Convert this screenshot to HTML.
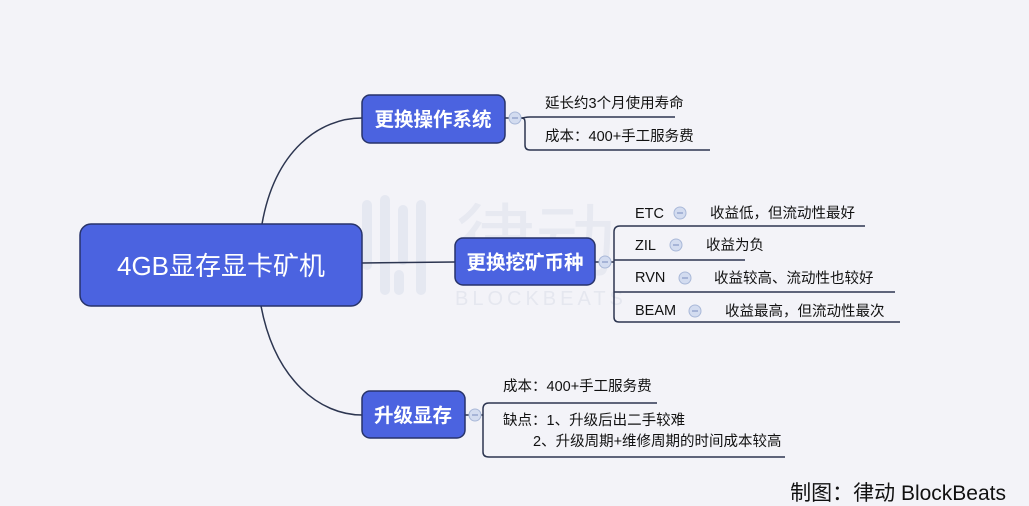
<!DOCTYPE html>
<html><head><meta charset="utf-8"><style>
html,body{margin:0;padding:0;background:#f3f3f8;}
svg{display:block;font-family:"Liberation Sans","Noto Sans CJK SC",sans-serif;}
</style></head><body>
<svg width="1029" height="506" viewBox="0 0 1029 506" xmlns="http://www.w3.org/2000/svg">
<rect width="1029" height="506" fill="#f3f3f8"/>
<!-- watermark -->
<g fill="#e5e8f1">
<rect x="362" y="200" width="10" height="70" rx="5"/><rect x="380" y="195" width="10" height="100" rx="5"/>
<rect x="398" y="205" width="10" height="60" rx="5"/><rect x="416" y="200" width="10" height="95" rx="5"/>
<rect x="394" y="270" width="10" height="25" rx="5"/>
</g>
<text x="455" y="270" font-size="80" fill="#e7e9f1">律动</text>
<text x="455" y="305" font-size="20" fill="#e5e7ef" letter-spacing="4">BLOCKBEATS</text>
<!-- connectors -->
<g fill="none" stroke="#2c3550" stroke-width="1.5">
<path d="M262,224 C275,150 320,118 362,118"/>
<path d="M261,306 C275,380 320,415 362,415"/>
<path d="M362,263 L455,262"/>
<path d="M505,118 L510,118"/><path d="M595,262 L600,262"/><path d="M465,415 L470,415"/>
<path d="M521,118 C525,118 525,117 530,117 L675,117"/>
<path d="M521,118 C525,118 525,120 525,124 L525,145 Q525,150 530,150 L710,150"/>
<path d="M611,262 L614,262"/>
<path d="M614,232 L614,317 Q614,322 619,322 L900,322"/>
<path d="M614,232 Q614,226 620,226 L865,226"/>
<path d="M614,260 L745,260"/>
<path d="M614,292 L895,292"/>
<path d="M481,415 L483,415"/>
<path d="M483,409 Q483,403 489,403 L657,403"/>
<path d="M483,409 L483,452 Q483,457 489,457 L785,457"/>
</g>
<!-- nodes -->
<g fill="#4b63e0" stroke="#27336a" stroke-width="1.5">
<rect x="80" y="224" width="282" height="82" rx="11"/>
<rect x="362" y="95" width="143" height="48" rx="8"/>
<rect x="455" y="238" width="140" height="47" rx="8"/>
<rect x="362" y="391" width="103" height="47" rx="8"/>
</g>
<g fill="#fff" text-anchor="middle" font-weight="bold">
<text x="221" y="275" font-size="26" font-weight="normal">4GB显存显卡矿机</text>
<text x="433" y="126" font-size="19.5">更换操作系统</text>
<text x="525" y="269" font-size="19.5">更换挖矿币种</text>
<text x="413" y="422" font-size="19.5">升级显存</text>
</g>
<!-- collapse circles -->
<g fill="#d3dcf0" stroke="#a9b8d8" stroke-width="1">
<circle cx="515" cy="118" r="6"/><circle cx="605" cy="262" r="6"/><circle cx="475" cy="415" r="6"/>
<circle cx="680" cy="213" r="6"/><circle cx="676" cy="245" r="6"/><circle cx="685" cy="278" r="6"/><circle cx="695" cy="311" r="6"/>
</g>
<g stroke="#8a9cc8" stroke-width="1.2">
<path d="M512,118h6M602,262h6M472,415h6M677,213h6M673,245h6M682,278h6M692,311h6"/>
</g>
<!-- labels -->
<g fill="#111" font-size="14.5">
<text x="545" y="108">延长约3个月使用寿命</text>
<text x="545" y="141">成本：400+手工服务费</text>
<text x="635" y="218">ETC</text><text x="710" y="218">收益低，但流动性最好</text>
<text x="635" y="250">ZIL</text><text x="706" y="250">收益为负</text>
<text x="635" y="282">RVN</text><text x="714" y="283">收益较高、流动性也较好</text>
<text x="635" y="315">BEAM</text><text x="725" y="316">收益最高，但流动性最次</text>
<text x="503" y="391">成本：400+手工服务费</text>
<text x="503" y="425">缺点：1、升级后出二手较难</text>
<text x="533" y="446">2、升级周期+维修周期的时间成本较高</text>
</g>
<text x="1006" y="500" font-size="21" fill="#111" text-anchor="end">制图：律动 BlockBeats</text>
</svg>
</body></html>
